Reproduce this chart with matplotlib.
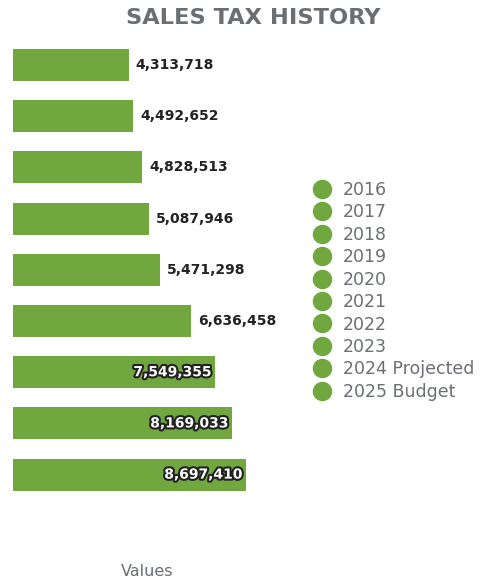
import matplotlib

matplotlib.use("Agg")
import matplotlib.pyplot as plt
import matplotlib.patheffects as pe
from matplotlib.lines import Line2D

# ── data ─────────────────────────────────────────────────────────────────────
years = ["2016", "2017", "2018", "2019", "2020", "2021", "2022", "2023",
         "2024 Projected", "2025 Budget"]
sales_tax = [4313718, 4492652, 4828513, 5087946, 5471298, 6636458,
             7549355, 8169033, 8697410]

GREEN = "#70a83f"
GREY = "#6b6e73"
DARK = "#222222"
INSIDE_FROM = 7_000_000  # labels for bars longer than this sit inside the bar

plt.rcParams.update({"font.family": "DejaVu Sans"})

W, H = 483, 579
fig = plt.figure(figsize=(W / 100, H / 100), dpi=100)

# axes in pixel terms: x=0 at 13px, bars centred every ~51px from y=65px
px_per_unit = 233 / 8697410
left_px, right_px = 13, 313
top_px, bot_px = 30, 510
ax = fig.add_axes([left_px / W, 1 - bot_px / H, (right_px - left_px) / W, (bot_px - top_px) / H])
step = 51.2
ax.set_xlim(0, (right_px - left_px) / px_per_unit)
ax.set_ylim((bot_px - 65) / step, -(65 - top_px) / step)

pos = list(range(len(sales_tax)))
ax.barh(pos, sales_tax, height=32 / step, color=GREEN, lw=0)

pad_out = 7 / px_per_unit
pad_in = 3.5 / px_per_unit
for y, v in zip(pos, sales_tax):
    txt = f"{v:,}"
    if v > INSIDE_FROM:
        ax.text(v - pad_in, y, txt, ha="right", va="center", fontsize=10,
                fontweight="bold", color="white",
                path_effects=[pe.withStroke(linewidth=3, foreground=DARK)])
    else:
        ax.text(v + pad_out, y, txt, ha="left", va="center", fontsize=10,
                fontweight="bold", color=DARK)

ax.axis("off")

fig.text(253 / W, 1 - 18 / H, "SALES TAX HISTORY", ha="center", va="center",
         fontsize=16.2, fontweight="bold", color=GREY)
fig.text(147 / W, 1 - 571 / H, "Values", ha="center", va="center",
         fontsize=11.5, color=GREY)

handles = [Line2D([], [], ls="none", marker="o", ms=13, color=GREEN) for _ in years]
fig.legend(handles, years, loc="upper left", bbox_to_anchor=(313 / W, 1 - 181 / H),
           frameon=False, fontsize=12.5, labelcolor=GREY, handlelength=1.0,
           handletextpad=0.71, labelspacing=0.255, borderpad=0, borderaxespad=0)

fig.savefig("out.png", dpi=100)
